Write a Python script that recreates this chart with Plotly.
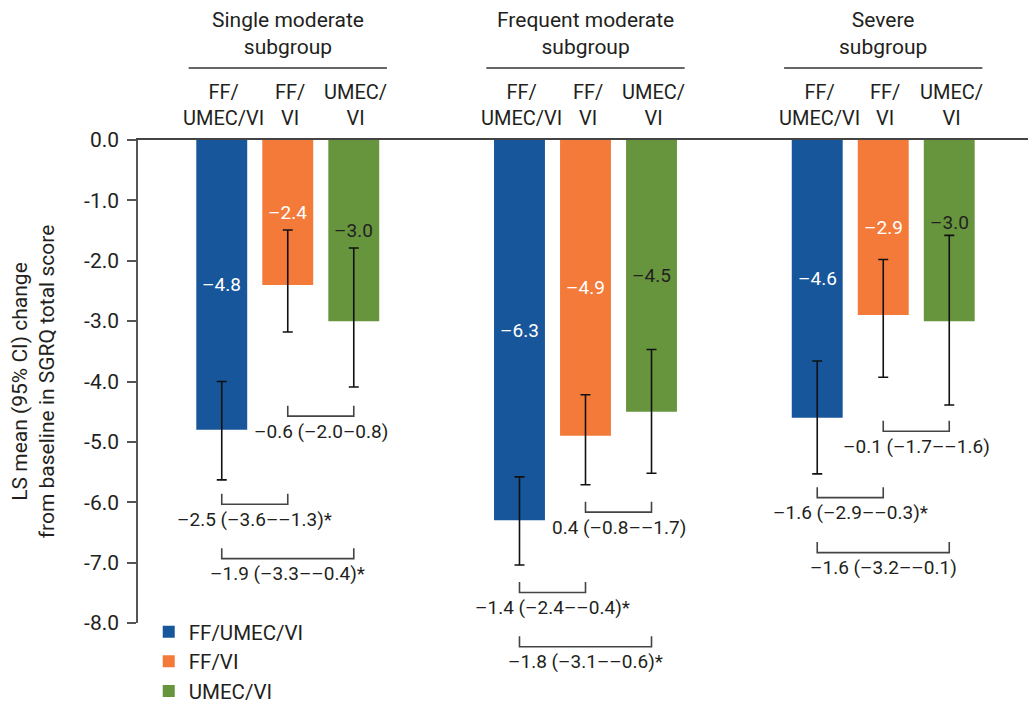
import plotly.graph_objects as go

# ---------------- data ----------------
subgroups = ["Single moderate<br>subgroup", "Frequent moderate<br>subgroup", "Severe<br>subgroup"]
treatments = ["FF/UMEC/VI", "FF/VI", "UMEC/VI"]
treatment_column_labels = ["FF/<br>UMEC/VI", "FF/<br>VI", "UMEC/<br>VI"]

mean_ff_umec_vi = [-4.8, -6.3, -4.6]
mean_ff_vi = [-2.4, -4.9, -2.9]
mean_umec_vi = [-3.0, -4.5, -3.0]

ci_high_ff_umec_vi = [-4.00, -5.58, -3.66]
ci_low_ff_umec_vi = [-5.63, -7.04, -5.53]
ci_high_ff_vi = [-1.49, -4.22, -1.98]
ci_low_ff_vi = [-3.18, -5.71, -3.93]
ci_high_umec_vi = [-1.79, -3.47, -1.58]
ci_low_umec_vi = [-4.09, -5.52, -4.39]

# treatment index pairs compared (FF/VI vs UMEC/VI, FF/UMEC/VI vs FF/VI, FF/UMEC/VI vs UMEC/VI)
comparison_pairs = [(1, 2), (0, 1), (0, 2)]
comparison_text_single = ["\u20130.6 (\u20132.0\u20130.8)", "\u20132.5 (\u20133.6\u2013\u20131.3)*", "\u20131.9 (\u20133.3\u2013\u20130.4)*"]
comparison_text_frequent = ["0.4 (\u20130.8\u2013\u20131.7)", "\u20131.4 (\u20132.4\u2013\u20130.4)*", "\u20131.8 (\u20133.1\u2013\u20130.6)*"]
comparison_text_severe = ["\u20130.1 (\u20131.7\u2013\u20131.6)", "\u20131.6 (\u20132.9\u2013\u20130.3)*", "\u20131.6 (\u20133.2\u2013\u20130.1)"]

y_tick_values = [0, -1, -2, -3, -4, -5, -6, -7, -8]
y_tick_labels = ["0.0", "-1.0", "-2.0", "-3.0", "-4.0", "-5.0", "-6.0", "-7.0", "-8.0"]

# ---------------- layout / style ----------------
PAGE_OFFSET = 8  # default body margin of the html page
W, H = 1036 - PAGE_OFFSET, 705 - PAGE_OFFSET
M_L, M_T = 138 - PAGE_OFFSET, 140 - PAGE_OFFSET
M_R, M_B = 3, 82
PLOT_W = W - M_L - M_R
PLOT_H = H - M_T - M_B
Y_RANGE = [-8, 0]
X_RANGE = [-0.503, 2.503]
BAR_STEP = 0.2217
BAR_WIDTH = 0.171
FONT = "Roboto"
TXT = "#231f20"
colors = ["#17569b", "#f47a3a", "#67953e"]
label_colors = ["white", "white", TXT]

means = [mean_ff_umec_vi, mean_ff_vi, mean_umec_vi]
ci_high = [ci_high_ff_umec_vi, ci_high_ff_vi, ci_high_umec_vi]
ci_low = [ci_low_ff_umec_vi, ci_low_ff_vi, ci_low_umec_vi]
comparison_texts = [comparison_text_single, comparison_text_frequent, comparison_text_severe]

# bracket vertical placement (y units of the top of each bracket's legs)
bracket_tops = [[-4.40, -5.86, -6.76], [-5.99, -7.32, -8.22], [-4.65, -5.75, -6.66]]
LEG_PX = 10.5


def bar_x(g, t):
    return g + (t - 1) * BAR_STEP


def y_to_paper(v):
    return (v - Y_RANGE[0]) / (Y_RANGE[1] - Y_RANGE[0])


def fmt(v):
    return f"{v:.1f}".replace("-", "\u2013")


fig = go.Figure()
for t, name in enumerate(treatments):
    xs = [bar_x(g, t) for g in range(len(subgroups))]
    fig.add_trace(go.Bar(
        x=xs, y=means[t], name=name, width=BAR_WIDTH,
        marker=dict(color=colors[t], line=dict(width=0)),
        error_y=dict(type="data", symmetric=False,
                     array=[hi - m for hi, m in zip(ci_high[t], means[t])],
                     arrayminus=[m - lo for lo, m in zip(ci_low[t], means[t])],
                     color="#111111", thickness=1.6, width=5),
        hoverinfo="skip",
    ))

annotations = []
shapes = []

# value labels inside bars
for t in range(3):
    for g in range(3):
        m = means[t][g]
        y_lab = max(m / 2, ci_high[t][g] + 0.22)
        annotations.append(dict(x=bar_x(g, t), y=y_lab, xref="x", yref="y", text=fmt(m),
                                showarrow=False, font=dict(family=FONT, size=19, color=label_colors[t]),
                                xanchor="center", yanchor="middle"))

# headers
for g, sg in enumerate(subgroups):
    annotations.append(dict(x=g, y=1, xref="x", yref="paper", yshift=107, text=sg, showarrow=False,
                            font=dict(family=FONT, size=21, color=TXT), xanchor="center", yanchor="middle"))
    shapes.append(dict(type="line", xref="x", yref="paper", ysizemode="pixel", yanchor=1,
                       x0=g - 0.333, x1=g + 0.333, y0=72, y1=72,
                       line=dict(color="#333333", width=1.5)))
    for t, lab in enumerate(treatment_column_labels):
        annotations.append(dict(x=bar_x(g, t), y=1, xref="x", yref="paper", yshift=35, xshift=2, text=lab,
                                showarrow=False, font=dict(family=FONT, size=20, color=TXT),
                                xanchor="center", yanchor="middle"))

# comparison brackets
for g in range(3):
    for c, (a, b) in enumerate(comparison_pairs):
        top = y_to_paper(bracket_tops[g][c])
        bot = top - LEG_PX / PLOT_H
        xa, xb = bar_x(g, a), bar_x(g, b)
        shapes.append(dict(type="path", xref="x", yref="paper",
                           path=f"M {xa},{top} L {xa},{bot} L {xb},{bot} L {xb},{top}",
                           line=dict(color="#444444", width=1.6)))
        annotations.append(dict(x=(xa + xb) / 2, y=bot, xref="x", yref="paper", yshift=-15,
                                text=comparison_texts[g][c], showarrow=False,
                                font=dict(family=FONT, size=19, color=TXT),
                                xanchor="center", yanchor="middle"))

fig.update_layout(
    width=W, height=H,
    margin=dict(l=M_L, r=M_R, t=M_T, b=M_B, autoexpand=False),
    paper_bgcolor="white", plot_bgcolor="white",
    font=dict(family=FONT, size=20, color=TXT),
    barmode="overlay",
    showlegend=True,
    legend=dict(x=0.012, y=0.023, xanchor="left", yanchor="top", bgcolor="rgba(0,0,0,0)",
                font=dict(family=FONT, size=20.5, color=TXT), traceorder="normal"),
    annotations=annotations,
    shapes=shapes,
)
fig.update_xaxes(range=X_RANGE, showgrid=False, zeroline=False, showticklabels=False, ticks="",
                 showline=True, side="top", linecolor="#444444", linewidth=1.5)
fig.update_yaxes(range=Y_RANGE, tickvals=y_tick_values, ticktext=y_tick_labels, showgrid=False, zeroline=False,
                 showline=True, linecolor="#555555", linewidth=1.5, ticks="outside", ticklen=9,
                 tickwidth=1.5, tickcolor="#555555", ticklabelstandoff=4,
                 tickfont=dict(family=FONT, size=21, color=TXT),
                 title=dict(text="LS mean (95% CI) change<br>from baseline in SGRQ total score",
                            font=dict(family=FONT, size=21, color=TXT), standoff=26))

fig.write_html("out.html")
